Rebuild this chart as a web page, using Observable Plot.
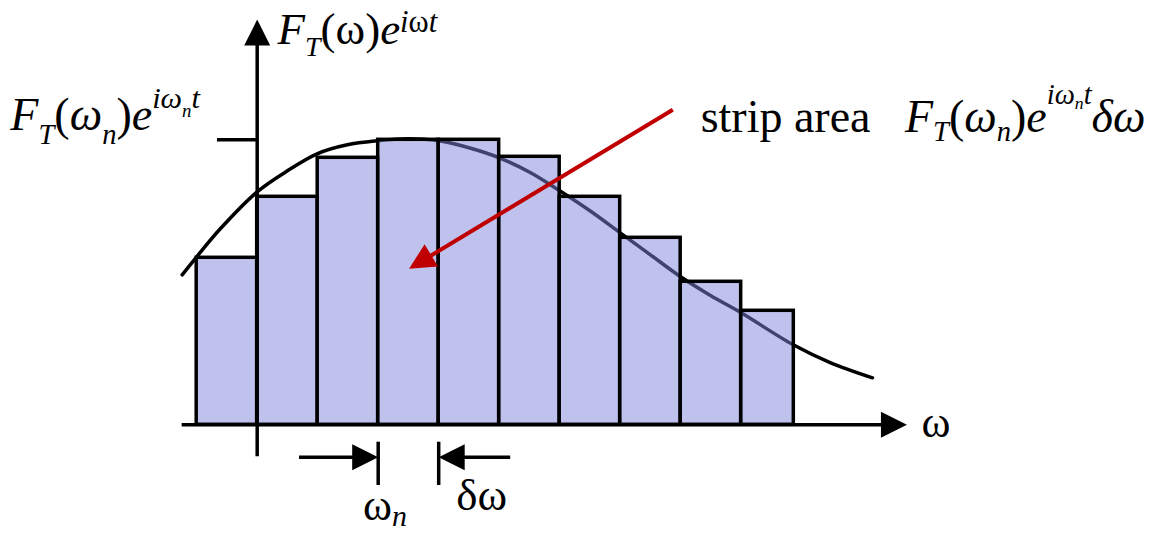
<!DOCTYPE html>
<html>
<head>
<meta charset="utf-8">
<script src="https://cdn.jsdelivr.net/npm/d3@7"></script>
<script src="https://cdn.jsdelivr.net/npm/@observablehq/plot@0.6"></script>
<style>
  body { margin: 0; background: #fff; }
</style>
</head>
<body>
<div id="chart"></div>
<script>
// Strips approximating the integral of F_T(ω)e^{iωt} over ω.
const stripStart  = [-1, 0, 1, 2, 3, 4, 5, 6, 7, 8];
const stripEnd    = [0, 1, 2, 3, 4, 5, 6, 7, 8, 8.87];
const stripHeight = [1.67, 2.28, 2.67, 2.85, 2.85, 2.68, 2.28, 1.87, 1.43, 1.14];

// The continuous curve F_T(ω)e^{iωt}
const curveOmega = [-1.24, -1.0, -0.61, 0, 0.5, 0.99, 1.49, 1.99, 2.5, 3.0, 3.5, 4.0, 4.52, 5.0, 5.5, 6.0, 6.5, 7.0, 7.5, 8.0, 8.86, 9.48, 10.17];
const curveValue = [1.50, 1.68, 1.96, 2.33, 2.54, 2.71, 2.80, 2.84, 2.86, 2.84, 2.77, 2.67, 2.52, 2.34, 2.14, 1.92, 1.70, 1.48, 1.29, 1.12, 0.80, 0.62, 0.47];

// Label texts (markup: /…/ italic, _{…} subscript, ^{…} superscript)
const yTitle     = "/F/_{/T/}(ω)/e/^{/i/ω/t/}";
const tickLabel  = "/F/_{/T/}(/ω/_{/n/})/e/^{/iω/_{/n/}/t/}";
const stripLabel = "strip area\u00a0\u00a0\u00a0/F/_{/T/}(/ω/_{/n/})/e/^{/iω/_{/n/}/t/}/δω/";
const xTitle     = "ω";
const omegaNText = "ω_{/n/}";
const deltaText  = "δω";

const nIdx = 3; // the ω_n strip

const W = 1173, H = 539;
const xDomain = [-4.243, 15.146];
const yDomain = [-1.147, 4.243];
const pxX = W / (xDomain[1] - xDomain[0]);
const pxY = H / (yDomain[1] - yDomain[0]);

const strips = stripStart.map((s, i) => ({x1: s, x2: stripEnd[i], h: stripHeight[i]}));
const curve = curveOmega.map((w, i) => ({w, v: curveValue[i]}));

// axis extents
const xAxis = {from: -1.24, tip: 10.74};
const yAxis = {from: -0.32, tip: 4.053};
const head = 26;           // arrowhead length in px
const back = 20;           // line stops short of the arrow tip
const wN = stripStart[nIdx], wN1 = stripEnd[nIdx];
const dimY = -0.324;
const lw = 3.5;

// red pointer from the label into the ω_n strip
const pointer = {x1: 6.87, y1: 3.15, x2: 2.51, y2: 1.56};
const pdx = (pointer.x2 - pointer.x1) * pxX, pdy = -(pointer.y2 - pointer.y1) * pxY;
const plen = Math.hypot(pdx, pdy);
const pAngle = Math.atan2(pdy, pdx) * 180 / Math.PI;
const pEnd = {
  x: pointer.x2 - (pdx / plen) * back / pxX,
  y: pointer.y2 + (pdy / plen) * back / pxY
};

// filled triangular arrowhead, tip at the origin, pointing right
const arrowHead = {
  draw(ctx, size) {
    const L = Math.sqrt(size / Math.PI) * 2;
    ctx.moveTo(0, 0);
    ctx.lineTo(-L, -L / 2);
    ctx.lineTo(-L, L / 2);
    ctx.closePath();
  }
};

const blackHeads = [
  {x: xAxis.tip, y: 0, a: 0},
  {x: 0, y: yAxis.tip, a: -90},
  {x: wN, y: dimY, a: 0},
  {x: wN1, y: dimY, a: 180}
];

const serifFont = "Liberation Serif";

const labels = [
  {text: yTitle,     x: 0.336, y: 3.813,  size: 45, sub: 0.27, sup: 0.26, subS: 0.62, supS: 0.68},
  {text: tickLabel,  x: -4.08, y: 2.95,   size: 46, sub: 0.30, sup: 0.47, subS: 0.62, supS: 0.66},
  {text: stripLabel, x: 7.33,  y: 2.926,  size: 46, sub: 0.18, sup: 0.62, subS: 0.62, supS: 0.62},
  {text: xTitle,     x: 10.98, y: -0.124, size: 44, sub: 0.3,  sup: 0.4,  subS: 0.7,  supS: 0.7},
  {text: omegaNText, x: 1.75,  y: -0.95,  size: 44, sub: 0.15, sup: 0.4,  subS: 0.68, supS: 0.7},
  {text: deltaText,  x: 3.29,  y: -0.847, size: 45, sub: 0.3,  sup: 0.4,  subS: 0.7,  supS: 0.7}
];

const chart = Plot.plot({
  width: W,
  height: H,
  margin: 0,
  x: {domain: xDomain, axis: null},
  y: {domain: yDomain, axis: null},
  marks: [
    Plot.line(curve, {x: "w", y: "v", curve: "catmull-rom", stroke: "black", strokeWidth: lw}),
    Plot.rectX(strips, {x1: "x1", x2: "x2", y1: 0, y2: "h", fill: "#8185dd", fillOpacity: 0.5, stroke: "black", strokeWidth: lw, inset: 0}),
    Plot.ruleY([0], {x1: xAxis.from, x2: xAxis.tip - back / pxX, stroke: "black", strokeWidth: lw}),
    Plot.ruleX([0], {y1: yAxis.from, y2: yAxis.tip - back / pxY, stroke: "black", strokeWidth: lw}),
    Plot.ruleY([stripHeight[nIdx]], {x1: -0.656, x2: 0, stroke: "black", strokeWidth: lw}),
    Plot.ruleX([wN, wN1], {y1: -0.174, y2: -0.607, stroke: "black", strokeWidth: lw}),
    Plot.ruleY([dimY], {x1: 0.70, x2: wN - back / pxX, stroke: "black", strokeWidth: lw}),
    Plot.ruleY([dimY], {x1: wN1 + back / pxX, x2: 4.19, stroke: "black", strokeWidth: lw}),
    Plot.link([pointer], {x1: "x1", y1: "y1", x2: () => pEnd.x, y2: () => pEnd.y, stroke: "#c00000", strokeWidth: 4}),
    Plot.dot(blackHeads, {x: "x", y: "y", rotate: "a", symbol: arrowHead, r: head / 2, fill: "black", stroke: "none"}),
    Plot.dot([pointer], {x: "x2", y: "y2", rotate: pAngle, symbol: arrowHead, r: head / 2, fill: "#c00000", stroke: "none"}),
    ...labels.map(l => Plot.text([l.text], {
      x: l.x, y: l.y, text: d => d, textAnchor: "start", lineAnchor: "bottom",
      fontSize: l.size, fontFamily: serifFont, fill: "black"
    }))
  ]
});

document.getElementById("chart").appendChild(chart);

// Turn the label markup into tspans with italics, subscripts and superscripts.
function parseMarkup(s) {
  let i = 0;
  function group(level) {
    const out = [];
    let italic = false, buf = "";
    const flush = () => { if (buf) out.push({text: buf, italic, level}); buf = ""; };
    while (i < s.length) {
      const c = s[i];
      if (c === "}" && level.length) { i++; break; }
      if (c === "/") { flush(); italic = !italic; i++; continue; }
      if (c === "_" || c === "^") {
        flush(); i++;
        const lv = [...level, c === "_" ? "sub" : "sup"];
        if (s[i] === "{") { i++; out.push(...group(lv)); }
        else { out.push({text: s[i], italic, level: lv}); i++; }
        continue;
      }
      buf += c; i++;
    }
    flush();
    return out;
  }
  return group([]);
}

const svgNS = "http://www.w3.org/2000/svg";
const textNodes = chart.querySelectorAll('g[aria-label="text"] text');
textNodes.forEach((el, k) => {
  const spec = labels[k];
  const segs = parseMarkup(spec.text);
  el.textContent = "";
  let prev = 0;
  for (const seg of segs) {
    let size = spec.size, off = 0;
    for (const l of seg.level) {
      if (l === "sub") { off += spec.sub * size; size *= spec.subS; }
      else { off -= spec.sup * size; size *= spec.supS; }
    }
    const t = document.createElementNS(svgNS, "tspan");
    t.setAttribute("font-size", size.toFixed(1));
    t.setAttribute("font-style", seg.italic ? "italic" : "normal");
    t.setAttribute("dy", (off - prev).toFixed(1));
    prev = off;
    t.textContent = seg.text;
    el.appendChild(t);
  }
});
</script>
</body>
</html>
